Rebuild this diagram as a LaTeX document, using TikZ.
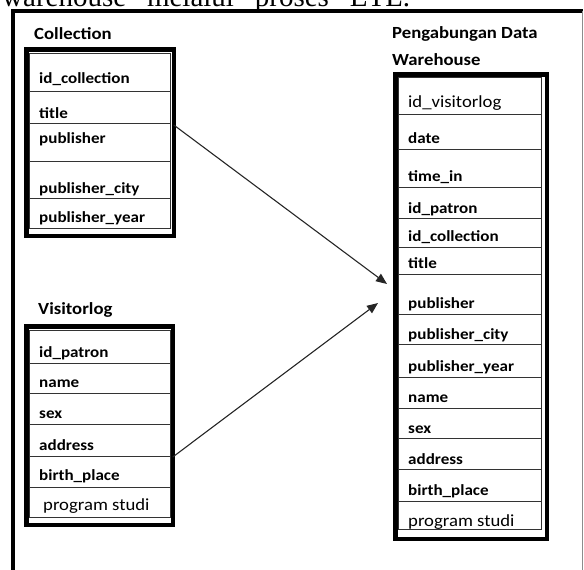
\documentclass[tikz,border=0pt]{standalone}
\usepackage{fontspec}
\setmainfont{Liberation Serif}
\newfontfamily\calfont[FakeStretch=1.1]{Carlito}
\usetikzlibrary{arrows.meta}
\begin{document}
\begin{tikzpicture}[x=1pt,y=-1pt,
  outerbox/.style={draw=black, line width=4.5pt, inner sep=0pt, outer sep=0pt},
  innerbox/.style={draw=black!80, line width=1pt, inner sep=0pt, outer sep=0pt},
  rowline/.style={draw=black!80, line width=1pt},
  hd/.style={anchor=base west, inner sep=0pt, font=\calfont\bfseries\fontsize{17}{20}\selectfont},
  fld/.style={anchor=base west, inner sep=0pt, font=\calfont\bfseries\fontsize{15.5}{18}\selectfont},
  fldr/.style={anchor=base west, inner sep=0pt, font=\calfont\fontsize{17}{20}\selectfont},
  conn/.style={draw=black!85, line width=1.1pt, -{Triangle[length=11pt,width=9pt]}}]
\useasboundingbox (0,0) rectangle (584,570);

% cut-off caption line at the top
\node[anchor=base west, inner sep=0pt, font=\fontsize{29}{31}\selectfont] (cap) at (2,6.5)
  {\makebox[408pt][s]{warehouse melalui proses ETL.}};

% page frame
\draw[line width=3.5pt, line join=miter] (13,572) -- (13,11) -- (582.5,11);
\draw[black!45, line width=1pt] (582,11) -- (582,572);

% ---------- Collection ----------
\node[hd] (hcoll) at (34,39) {Collection};
\node[outerbox, minimum width=147.5pt, minimum height=186.5pt] (coll) at (100,142.5) {};
\node[innerbox, minimum width=141pt, minimum height=175pt] (collin) at (100,141) {};
\foreach \yy in {91,123,161,198}
  \draw[rowline] (collin.west |- 0,\yy) -- (collin.east |- 0,\yy);
\node[fld] (c1) at (39,83) {id\_collection};
\node[fld] (c2) at (39,118) {title};
\node[fld] (c3) at (39,143) {publisher};
\node[fld] (c4) at (39,193) {publisher\_city};
\node[fld] (c5) at (39,222) {publisher\_year};

% ---------- Visitorlog ----------
\node[hd] (hvis) at (38,314) {Visitorlog};
\node[outerbox, minimum width=146.5pt, minimum height=198.5pt] (vis) at (99.5,425.5) {};
\node[innerbox, minimum width=141pt, minimum height=187pt] (visin) at (100,424) {};
\foreach \yy in {363,393,424,456,487}
  \draw[rowline] (visin.west |- 0,\yy) -- (visin.east |- 0,\yy);
\node[fld] (v1) at (39,357) {id\_patron};
\node[fld] (v2) at (39,387) {name};
\node[fld] (v3) at (39,418) {sex};
\node[fld] (v4) at (39,450) {address};
\node[fld] (v5) at (39,480) {birth\_place};
\node[fldr] (v6) at (43,510) {program studi};

% ---------- Warehouse ----------
\node[hd] (hwh1) at (392,38) {Pengabungan Data};
\node[hd] (hwh2) at (392,65) {Warehouse};
\node[outerbox, minimum width=151.5pt, minimum height=464.5pt] (wh) at (471,306.5) {};
\node[innerbox, minimum width=143pt, minimum height=452pt] (whin) at (470,303.5) {};
\foreach \yy in {114,149,187,218,247,274,314,344,377,408,438,469,501}
  \draw[rowline] (whin.west |- 0,\yy) -- (whin.east |- 0,\yy);
\node[fldr] (w1) at (408,107) {id\_visitorlog};
\node[fld] (w2) at (408,143) {date};
\node[fld] (w3) at (408,181) {time\_in};
\node[fld] (w4) at (408,213) {id\_patron};
\node[fld] (w5) at (408,241) {id\_collection};
\node[fld] (w6) at (408,268) {title};
\node[fld] (w7) at (408,308) {publisher};
\node[fld] (w8) at (408,339) {publisher\_city};
\node[fld] (w9) at (408,371) {publisher\_year};
\node[fld] (w10) at (408,402) {name};
\node[fld] (w11) at (408,433) {sex};
\node[fld] (w12) at (408,464) {address};
\node[fld] (w13) at (408,495) {birth\_place};
\node[fldr] (w14) at (408,526) {program studi};

% ---------- connectors ----------
\coordinate (t1) at (387,284);
\coordinate (t2) at (378,303);
\draw[conn] (coll.east |- 0,125) -- (t1);
\draw[conn] (vis.east |- 0,457) -- (t2);
\end{tikzpicture}
\end{document}
